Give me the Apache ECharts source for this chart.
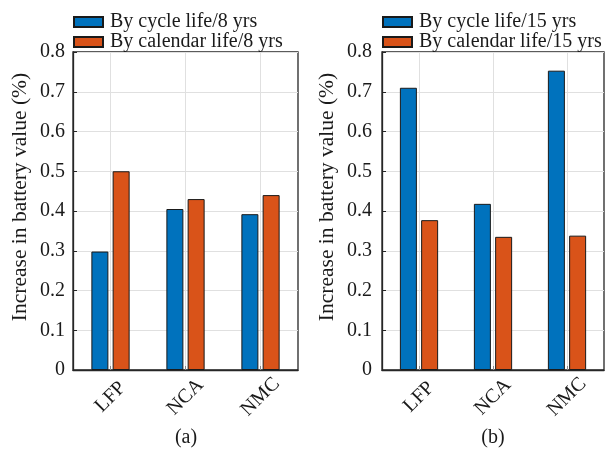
<!DOCTYPE html>
<html>
<head>
<meta charset="utf-8">
<script src="https://cdn.jsdelivr.net/npm/echarts@6/dist/echarts.min.js"></script>
<style>html,body{margin:0;padding:0;background:#fff;}#c{width:606px;height:450px;}</style>
</head>
<body>
<div id="c"></div>
<script>
const categories = ['LFP', 'NCA', 'NMC'];
const cycle8 = [0.298, 0.405, 0.392];
const calendar8 = [0.50, 0.43, 0.44];
const cycle15 = [0.71, 0.418, 0.753];
const calendar15 = [0.377, 0.335, 0.338];
const names = ['By cycle life/8 yrs', 'By calendar life/8 yrs', 'By cycle life/15 yrs', 'By calendar life/15 yrs'];
const yAxisName = 'Increase in battery value (%)';
const panelLabels = ['(a)', '(b)'];

const FONT = '"Liberation Serif", "DejaVu Serif", serif';
const TXT = '#1a1a1a';
const BLUE = '#0072BD';
const ORANGE = '#D95319';

const chart = echarts.init(document.getElementById('c'), null, {renderer: 'canvas'});

function xAx(gi) {
  return {
    type: 'category', gridIndex: gi, data: categories,
    axisLine: {show: true, lineStyle: {color: '#262626', width: 1.3}},
    axisTick: {show: true, inside: true, alignWithLabel: true, length: 4, lineStyle: {color: '#888'}},
    splitLine: {show: true, alignWithLabel: true, lineStyle: {color: '#e0e0e0', width: 1}},
    axisLabel: {fontFamily: FONT, fontSize: 20, color: TXT, rotate: 45, align: 'center', verticalAlign: 'middle', margin: 27}
  };
}
function yAx(gi, margin) {
  return {
    type: 'value', gridIndex: gi, min: 0, max: 0.8, interval: 0.1,
    axisLine: {show: true, lineStyle: {color: '#262626', width: 1.3}},
    axisTick: {show: true, inside: true, length: 4, lineStyle: {color: '#262626'}},
    splitLine: {show: true, lineStyle: {color: '#e0e0e0', width: 1}},
    axisLabel: {fontFamily: FONT, fontSize: 20, color: TXT, margin: margin,
      formatter: v => (Math.abs(v) < 1e-9 ? '0' : v.toFixed(1))}
  };
}
function bar(name, data, color, gi) {
  return {
    type: 'bar', name: name, data: data, xAxisIndex: gi, yAxisIndex: gi,
    barWidth: 17, barGap: '25%',
    itemStyle: {color: color, borderColor: '#1a1a1a', borderWidth: 1}
  };
}
function legend(left, n1, n2) {
  return {
    orient: 'vertical', left: left, top: 12, icon: 'rect', padding: 0,
    itemWidth: 29, itemHeight: 10, itemGap: 0,
    data: [n1, n2],
    textStyle: {fontFamily: FONT, fontSize: 20, color: TXT, lineHeight: 19.5, padding: [0, 0, 0, 2]}
  };
}

chart.setOption({
  animation: false,
  backgroundColor: '#fff',
  grid: [
    {left: 73, top: 52, width: 225, height: 318, show: true, borderColor: '#262626', borderWidth: 1.3, containLabel: false},
    {left: 382, top: 52, width: 222, height: 318, show: true, borderColor: '#262626', borderWidth: 1.3, containLabel: false}
  ],
  xAxis: [xAx(0), xAx(1)],
  yAxis: [yAx(0, 8), yAx(1, 10)],
  legend: [legend(73, names[0], names[1]), legend(382, names[2], names[3])],
  series: [
    bar(names[0], cycle8, BLUE, 0),
    bar(names[1], calendar8, ORANGE, 0),
    bar(names[2], cycle15, BLUE, 1),
    bar(names[3], calendar15, ORANGE, 1)
  ],
  graphic: [
    {type: 'text', x: 20, y: 197, rotation: Math.PI / 2,
      style: {text: yAxisName, fontFamily: FONT, fontSize: 21.5, fill: TXT, align: 'center', verticalAlign: 'middle'}},
    {type: 'text', x: 327, y: 197, rotation: Math.PI / 2,
      style: {text: yAxisName, fontFamily: FONT, fontSize: 21.5, fill: TXT, align: 'center', verticalAlign: 'middle'}},
    {type: 'text', x: 186, y: 438,
      style: {text: panelLabels[0], fontFamily: FONT, fontSize: 20, fill: TXT, align: 'center', verticalAlign: 'middle'}},
    {type: 'text', x: 493, y: 438,
      style: {text: panelLabels[1], fontFamily: FONT, fontSize: 20, fill: TXT, align: 'center', verticalAlign: 'middle'}}
  ]
});
</script>
</body>
</html>
